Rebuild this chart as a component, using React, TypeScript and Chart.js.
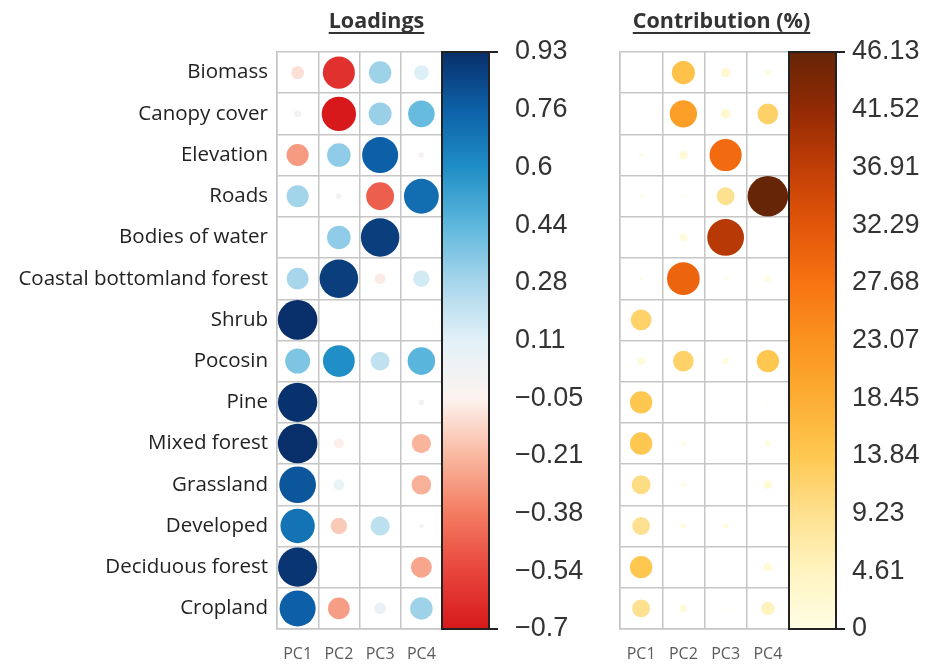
import React, { useEffect, useRef } from 'react';
import { Chart, registerables } from 'chart.js';
Chart.register(...registerables);

// ---------- DATA ----------
const variables = [
  'Biomass', 'Canopy cover', 'Elevation', 'Roads', 'Bodies of water',
  'Coastal bottomland forest', 'Shrub', 'Pocosin', 'Pine', 'Mixed forest',
  'Grassland', 'Developed', 'Deciduous forest', 'Cropland',
];
const components = ['PC1', 'PC2', 'PC3', 'PC4'];

// Loadings per component (rows in the order of `variables`)
const loadPC1 = [-0.1, 0.03, -0.29, 0.29, 0, 0.28, 0.93, 0.37, 0.92, 0.93, 0.8, 0.7, 0.91, 0.77];
const loadPC2 = [-0.61, -0.7, 0.33, 0.02, 0.33, 0.88, 0, 0.6, 0, -0.06, 0.07, -0.16, 0, -0.28];
const loadPC3 = [0.3, 0.31, 0.77, -0.46, 0.88, -0.07, 0, 0.21, 0, 0, 0, 0.22, 0, 0.08];
const loadPC4 = [0.13, 0.42, -0.02, 0.72, 0, 0.16, 0, 0.45, 0.02, -0.22, -0.23, 0.01, -0.26, 0.3];

// Contribution (%) per component
const contPC1 = [0, 0, 0.5, 0.4, 0, 0.3, 12, 1.5, 14, 14, 10, 9, 14, 9];
const contPC2 = [15, 21, 2, 0.3, 1.5, 30, 0, 12, 0, 0.6, 0.6, 0.8, 0, 1.5];
const contPC3 = [2.5, 2.5, 29, 9, 38, 0.3, 0, 1, 0, 0, 0, 0.8, 0, 0.2];
const contPC4 = [1, 12, 0, 46.13, 0, 1, 0, 14, 0.2, 1, 2, 0, 2, 5];

// Colour-bar tick labels
const loadingTicks = ['−0.7', '−0.54', '−0.38', '−0.21', '−0.05', '0.11', '0.28', '0.44', '0.6', '0.76', '0.93'];
const loadingMin = -0.7;
const loadingMax = 0.93;
const contribTicks = ['0', '4.61', '9.23', '13.84', '18.45', '23.07', '27.68', '32.29', '36.91', '41.52', '46.13'];
const contribMin = 0;
const contribMax = 46.13;

// ---------- STYLE ----------
const loadingColors = ['#d7191c', '#e8453c', '#f37b60', '#f9b8a0', '#fdf3ef', '#e2f1f7', '#a8d6eb', '#5db7dd', '#1f8ec6', '#0d61a8', '#082f6a'];
const contribColors = ['#fffde4', '#fff4c0', '#fee08e', '#fec851', '#fdad33', '#fb931f', '#f87312', '#e2560a', '#c13e06', '#932a05', '#662506'];
const GRID = '#c6c6c6';

function hexToRgb(h: string) {
  const n = parseInt(h.slice(1), 16);
  return [(n >> 16) & 255, (n >> 8) & 255, n & 255];
}
function colorAt(v: number, min: number, max: number, stops: string[]) {
  let t = (v - min) / (max - min);
  t = Math.max(0, Math.min(1, t));
  const f = t * (stops.length - 1);
  const i = Math.min(stops.length - 2, Math.floor(f));
  const k = f - i;
  const a = hexToRgb(stops[i]);
  const b = hexToRgb(stops[i + 1]);
  const c = a.map((x, j) => Math.round(x + (b[j] - x) * k));
  return `rgb(${c[0]},${c[1]},${c[2]})`;
}

const colorbarPlugin = {
  id: 'colorbar',
  afterDraw(chart: any, _args: any, opts: any) {
    const { ctx, chartArea: a } = chart;
    const x0 = a.right;
    const w = 47;
    ctx.save();
    const g = ctx.createLinearGradient(0, a.bottom, 0, a.top);
    opts.colors.forEach((c: string, i: number) => g.addColorStop(i / (opts.colors.length - 1), c));
    ctx.fillStyle = g;
    ctx.fillRect(x0, a.top, w, a.bottom - a.top);
    ctx.strokeStyle = '#222';
    ctx.lineWidth = 2;
    ctx.strokeRect(x0, a.top, w, a.bottom - a.top);
    ctx.beginPath();
    ctx.moveTo(x0 + w, a.top);
    ctx.lineTo(x0 + w + 9, a.top);
    ctx.moveTo(x0 + w, a.bottom);
    ctx.lineTo(x0 + w + 9, a.bottom);
    ctx.stroke();
    // title
    ctx.font = 'bold 21.5px "Open Sans"';
    ctx.fillStyle = '#333';
    ctx.textAlign = 'center';
    ctx.textBaseline = 'alphabetic';
    const cx = (a.left + a.right) / 2 + 17;
    ctx.fillText(opts.title, cx, 28);
    const tw = ctx.measureText(opts.title).width;
    ctx.strokeStyle = '#333';
    ctx.lineWidth = 2;
    ctx.beginPath();
    ctx.moveTo(cx - tw / 2, 33);
    ctx.lineTo(cx + tw / 2, 33);
    ctx.stroke();
    ctx.restore();
  },
};

const noPad = (s: any) => {
  s.paddingTop = 0;
  s.paddingBottom = 0;
  s.paddingLeft = 0;
  s.paddingRight = 0;
};

function buildConfig(
  cols: number[][], min: number, max: number, colors: string[], ticks: string[],
  title: string, showRows: boolean, leftWidth: number, rightWidth: number, labelPad: number,
) {
  const points = variables.flatMap((name, i) =>
    components.map((c, j) => ({ x: c, y: name, v: cols[j][i] })));
  const maxAbs = Math.max(Math.abs(min), Math.abs(max));
  const radius = (ctx: any) => {
    const v = ctx.raw ? ctx.raw.v : 0;
    const area = ctx.chart.chartArea;
    if (!area) return 0;
    const cell = (area.right - area.left) / components.length;
    return 0.48 * cell * Math.sqrt(Math.abs(v) / maxAbs);
  };
  const color = (ctx: any) => colorAt(ctx.raw ? ctx.raw.v : 0, min, max, colors);
  const n = ticks.length;
  return {
    type: 'scatter',
    data: {
      datasets: [{
        data: points,
        pointRadius: radius,
        pointHoverRadius: radius,
        pointBackgroundColor: color,
        pointBorderColor: color,
        pointBorderWidth: 0,
      }],
    },
    options: {
      responsive: false,
      animation: false,
      events: [],
      layout: { autoPadding: false, padding: { top: 52, left: 0, right: 0, bottom: 0 } },
      plugins: {
        legend: { display: false },
        tooltip: { enabled: false },
        colorbar: { colors, title },
      },
      scales: {
        x: {
          type: 'category',
          labels: components,
          offset: true,
          grid: { offset: true, color: GRID, lineWidth: 1.5, drawTicks: false },
          border: { color: GRID, width: 1.5 },
          ticks: { padding: 16, color: '#5a5a5a', font: { family: 'Open Sans', size: 16 } },
          afterFit: (s: any) => { s.height = 38; noPad(s); },
        },
        y: {
          type: 'category',
          labels: variables,
          offset: true,
          grid: { offset: true, color: GRID, lineWidth: 1.5, drawTicks: false },
          border: { color: GRID, width: 1.5 },
          ticks: { display: showRows, padding: 9, color: '#222', font: { family: 'Open Sans', size: 20.5 } },
          afterFit: (s: any) => { s.width = leftWidth; noPad(s); },
        },
        cb: {
          type: 'linear',
          position: 'right',
          min,
          max,
          grid: { display: false },
          border: { display: false },
          afterBuildTicks: (s: any) => {
            s.ticks = ticks.map((_, i) => ({ value: min + (i * (max - min)) / (n - 1) }));
          },
          ticks: {
            autoSkip: false,
            padding: labelPad,
            color: '#333',
            font: { family: 'Liberation Sans', size: 27 },
            callback: (_v: any, i: number) => ticks[i],
          },
          afterFit: (s: any) => { s.width = rightWidth; noPad(s); },
        },
      },
    },
    plugins: [colorbarPlugin],
  };
}

function ChartPanel({ cfg, left, width }: { cfg: any; left: number; width: number }) {
  const ref = useRef<HTMLCanvasElement | null>(null);
  useEffect(() => {
    if (!ref.current) return;
    const chart = new Chart(ref.current, cfg);
    return () => chart.destroy();
  }, [cfg]);
  return (
    <canvas
      ref={ref}
      width={width}
      height={667}
      style={{ position: 'absolute', left, top: 0, width, height: 667 }}
    />
  );
}

const loadingCfg = buildConfig(
  [loadPC1, loadPC2, loadPC3, loadPC4], loadingMin, loadingMax, loadingColors, loadingTicks,
  'Loadings', true, 277, 158, 65,
);
const contribCfg = buildConfig(
  [contPC1, contPC2, contPC3, contPC4], contribMin, contribMax, contribColors, contribTicks,
  'Contribution (%)', false, 20, 141, 55,
);

export default function App() {
  return (
    <div style={{ position: 'absolute', left: 0, top: 0, width: 930, height: 667, background: '#fff' }}>
      <ChartPanel cfg={loadingCfg} left={0} width={600} />
      <ChartPanel cfg={contribCfg} left={600} width={330} />
    </div>
  );
}
